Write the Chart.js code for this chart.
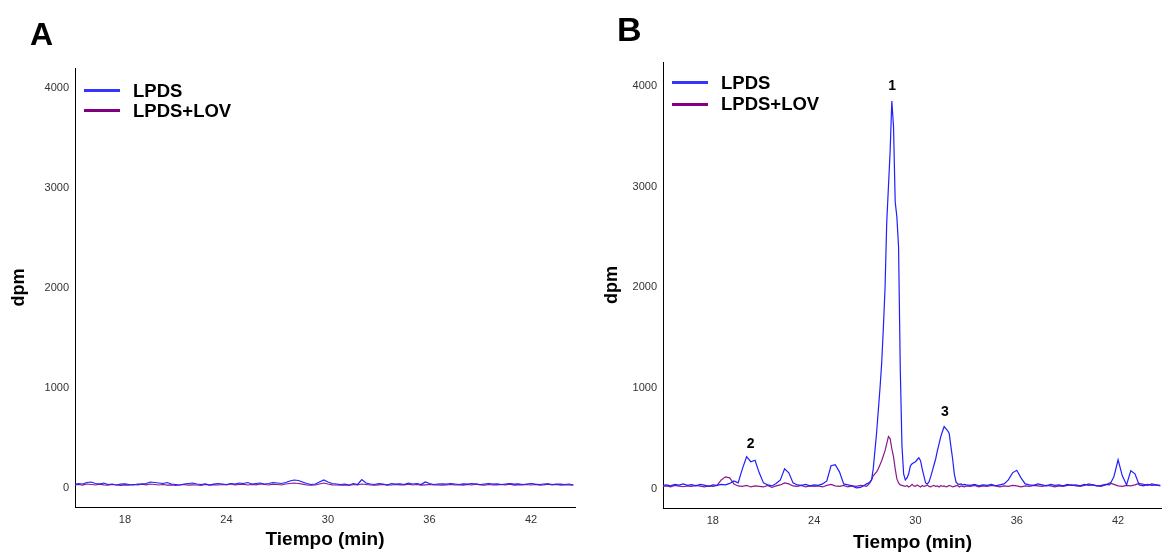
<!DOCTYPE html>
<html>
<head>
<meta charset="utf-8">
<script src="https://cdn.jsdelivr.net/npm/chart.js@4.4.0/dist/chart.umd.min.js"></script>
<style>
    body { margin: 0; background: #fff; }
    #fig { position: relative; width: 1162px; height: 554px; overflow: hidden; font-family: 'Liberation Sans', Arial, sans-serif; }
    canvas { position: absolute; top: 0; }
    .letra { position: absolute; font-weight: bold; line-height: 1; color: #000; }
    .ley-linea { position: absolute; width: 36px; height: 3px; }
    .ley-texto { position: absolute; font-weight: bold; font-size: 18.5px; line-height: 20px; color: #000; white-space: nowrap; }
</style>
</head>
<body>
<div id="fig">
    <canvas id="graficoA" width="590" height="554" style="left:0px"></canvas>
    <canvas id="graficoB" width="572" height="554" style="left:590px"></canvas>

    <div class="letra" style="left:30px; top:18px; font-size:32px;">A</div>
    <div class="letra" style="left:617px; top:12px; font-size:34px;">B</div>

    <!-- leyenda panel A -->
    <div class="ley-linea" style="left:84px; top:89px; background:#3535ff;"></div>
    <div class="ley-linea" style="left:84px; top:109px; background:#800080;"></div>
    <div class="ley-texto" style="left:133px; top:81px;">LPDS</div>
    <div class="ley-texto" style="left:133px; top:101px;">LPDS+LOV</div>

    <!-- leyenda panel B -->
    <div class="ley-linea" style="left:672px; top:81px; background:#3535ff;"></div>
    <div class="ley-linea" style="left:672px; top:103px; background:#800080;"></div>
    <div class="ley-texto" style="left:721px; top:73px;">LPDS</div>
    <div class="ley-texto" style="left:721px; top:94px;">LPDS+LOV</div>
</div>

<script>
// rejilla de tiempos (min)
function rango(ini, fin, paso) {
    let t = [];
    for (let v = ini; v <= fin + 1e-9; v += paso) {
        t.push(Math.round(v * 100) / 100);
    }
    return t;
}

const ticksTiempo = [18, 24, 30, 36, 42];
const ticksDpm = [0, 1000, 2000, 3000, 4000];

/* ---- Panel A ---- */
const tiempoA = rango(15, 44.5, 0.25);

const lpdsA = [
    35, 45, 40, 55, 60, 45, 40, 50, 35, 40, 30, 38, 42, 35, 30, 40,
    38, 45, 60, 55, 50, 45, 55, 40, 35, 30, 40, 45, 50, 40, 35, 42,
    30, 38, 45, 40, 35, 45, 40, 50, 45, 55, 40, 45, 50, 40, 45, 55,
    50, 45, 55, 70, 80, 75, 60, 45, 35, 40, 60, 80, 60, 45, 40, 35,
    40, 30, 45, 35, 85, 50, 40, 35, 45, 40, 30, 45, 38, 42, 35, 50,
    40, 45, 35, 60, 45, 35, 40, 42, 38, 45, 40, 35, 42, 38, 45, 40,
    35, 40, 45, 38, 42, 35, 40, 45, 38, 42, 35, 40, 45, 38, 35, 40,
    42, 35, 38, 40, 35, 40, 30
];

const lovA = [
    30, 35, 28, 40, 35, 30, 38, 32, 28, 35, 30, 25, 32, 28, 35, 30,
    38, 32, 40, 35, 30, 35, 28, 32, 25, 30, 35, 28, 32, 30, 25, 35,
    28, 32, 30, 35, 30, 40, 32, 35, 38, 30, 35, 32, 40, 35, 30, 38,
    35, 30, 40, 45, 50, 45, 38, 30, 28, 30, 40, 50, 40, 32, 30, 28,
    32, 25, 35, 30, 40, 35, 30, 28, 32, 35, 28, 30, 35, 30, 32, 38,
    30, 35, 28, 32, 35, 30, 32, 28, 30, 35, 32, 30, 28, 35, 30, 38,
    32, 28, 35, 30, 30, 35, 32, 38, 28, 32, 30, 35, 30, 35, 28, 32,
    38, 30, 35, 28, 32, 30, 28
];

/* ---- Panel B ---- */
const tiempoB = rango(15, 27, 0.25).concat(rango(27.1, 33, 0.1), rango(33.25, 44.5, 0.25));

const lpdsB = [
    // 15.0 - 27.0
    35, 40, 30, 45, 38, 50, 35, 42, 30, 45, 38, 25, 40, 35, 45, 40,
    55, 80, 60, 200, 320, 270, 285, 160, 60, 40, 30, 55, 90, 200, 160, 60,
    40, 35, 45, 30, 40, 35, 50, 80, 230, 240, 170, 50, 40, 30, 10, 15, 40,
    // 27.1 - 33.0
    50, 55, 70, 90, 200, 380, 560, 780, 1000,
    1250, 1600, 2000, 2650, 3000, 3350, 3850, 3600, 2850, 2700,
    2400, 1200, 430, 150, 90, 110, 150, 230, 250, 260,
    270, 290, 310, 280, 200, 130, 60, 50, 70, 120,
    180, 240, 300, 380, 450, 520, 570, 620, 600, 580,
    550, 420, 300, 150, 70, 50, 45, 50, 40, 45,
    40,
    // 33.25 - 44.5
    35, 45, 30, 40, 35, 45, 30, 40, 50, 90, 160, 185, 110, 50, 40, 35,
    50, 40, 30, 45, 35, 40, 30, 45, 35, 40, 30, 45, 35, 40, 30, 35,
    45, 40, 120, 290, 130, 40, 180, 150, 40, 30, 45, 35, 40, 30
];

const lovB = [
    // 15.0 - 27.0
    25, 30, 20, 35, 28, 22, 30, 25, 35, 28, 20, 30, 25, 35, 90, 120,
    110, 50, 30, 25, 35, 20, 30, 25, 20, 35, 15, 30, 40, 60, 50, 30,
    25, 35, 20, 30, 25, 30, 20, 35, 45, 30, 25, 35, 20, 30, 25, 35, 30,
    // 27.1 - 33.0
    25, 40, 60, 90, 130, 150, 170, 200, 240,
    280, 330, 380, 450, 520, 500, 400, 320, 200, 100,
    60, 40, 35, 30, 25, 35, 20, 30, 45, 30,
    25, 40, 30, 20, 35, 25, 30, 40, 25, 20,
    30, 35, 25, 30, 20, 35, 25, 30, 20, 25,
    35, 30, 20, 25, 30, 35, 20, 30, 25, 20,
    30,
    // 33.25 - 44.5
    25, 35, 20, 30, 25, 35, 30, 20, 30, 25, 35, 30, 20, 30, 25, 35,
    30, 25, 35, 30, 20, 30, 25, 35, 40, 30, 25, 35, 50, 40, 30, 25,
    40, 60, 45, 30, 25, 35, 30, 40, 55, 45, 35, 50, 40, 35
];

// etiquetas de los picos (solo panel B)
const etiquetasPicos = ['1', '2', '3'];
const tiempoPicos = [28.62, 20.24, 31.75];
const dpmPicos = [3870, 320, 630];

function puntos(tiempos, valores) {
    return tiempos.map(function (t, i) { return { x: t, y: valores[i] }; });
}

const pluginPicos = {
    id: 'picos',
    afterDatasetsDraw(chart) {
        const ctx = chart.ctx;
        ctx.save();
        ctx.font = 'bold 14px "Liberation Sans", Arial';
        ctx.fillStyle = '#000';
        ctx.textAlign = 'center';
        ctx.textBaseline = 'middle';
        for (let i = 0; i < etiquetasPicos.length; i++) {
            const px = chart.scales.x.getPixelForValue(tiempoPicos[i]);
            const py = chart.scales.y.getPixelForValue(dpmPicos[i]) - 13;
            ctx.fillText(etiquetasPicos[i], px, py);
        }
        ctx.restore();
    }
};

function plotarPanel(idCanvas, tiempos, lpds, lov, cfg) {
    const config = {
        type: 'line',
        data: {
            datasets: [{
                label: 'LPDS',
                data: puntos(tiempos, lpds),
                borderColor: '#1f1fff',
                borderWidth: 1.2,
                pointRadius: 0,
                tension: 0
            }, {
                label: 'LPDS+LOV',
                data: puntos(tiempos, lov),
                borderColor: '#8a1a8a',
                borderWidth: 1.2,
                pointRadius: 0,
                tension: 0
            }]
        },
        options: {
            responsive: false,
            animation: false,
            layout: { padding: cfg.padding },
            scales: {
                x: {
                    type: 'linear',
                    min: 15.05,
                    max: 44.6,
                    grid: { display: false, drawTicks: false },
                    border: { display: true, color: '#000', width: 1 },
                    ticks: {
                        color: '#333', padding: 6,
                        font: { family: 'Liberation Sans', size: 11 },
                        callback: function (v) { return String(v); }
                    },
                    afterBuildTicks: function (scale) {
                        scale.ticks = ticksTiempo.map(function (v) { return { value: v }; });
                    },
                    afterFit: function (scale) { scale.height = cfg.altoX; },
                    title: {
                        display: true,
                        text: 'Tiempo (min)',
                        color: '#000',
                        font: { family: 'Liberation Sans', size: 19, weight: 'bold' },
                        padding: { top: 0, bottom: cfg.padTituloX }
                    }
                },
                y: {
                    min: cfg.yMin,
                    max: cfg.yMax,
                    grid: { display: false, drawTicks: false },
                    border: { display: true, color: '#000', width: 1 },
                    ticks: {
                        color: '#333', padding: 6,
                        font: { family: 'Liberation Sans', size: 11 },
                        callback: function (v) { return String(v); }
                    },
                    afterBuildTicks: function (scale) {
                        scale.ticks = ticksDpm.map(function (v) { return { value: v }; });
                    },
                    afterFit: function (scale) { scale.width = cfg.anchoY; },
                    title: {
                        display: true,
                        text: 'dpm',
                        color: '#000',
                        font: { family: 'Liberation Sans', size: 18, weight: 'bold' },
                        padding: { top: cfg.padTituloY, bottom: 0 }
                    }
                }
            },
            plugins: {
                legend: { display: false },
                tooltip: { enabled: false }
            }
        },
        plugins: cfg.extra ? [cfg.extra] : []
    };

    return new Chart(document.getElementById(idCanvas).getContext('2d'), config);
}

plotarPanel('graficoA', tiempoA, lpdsA, lovA, {
    padding: { left: 0, top: 68, right: 15, bottom: 0 },
    anchoY: 75, altoX: 47, yMin: -190, yMax: 4200,
    padTituloY: 8, padTituloX: 3
});

plotarPanel('graficoB', tiempoB, lpdsB, lovB, {
    padding: { left: 0, top: 62, right: 0, bottom: 0 },
    anchoY: 73, altoX: 46, yMin: -189, yMax: 4238,
    padTituloY: 11, padTituloX: 0,
    extra: pluginPicos
});
</script>
</body>
</html>
